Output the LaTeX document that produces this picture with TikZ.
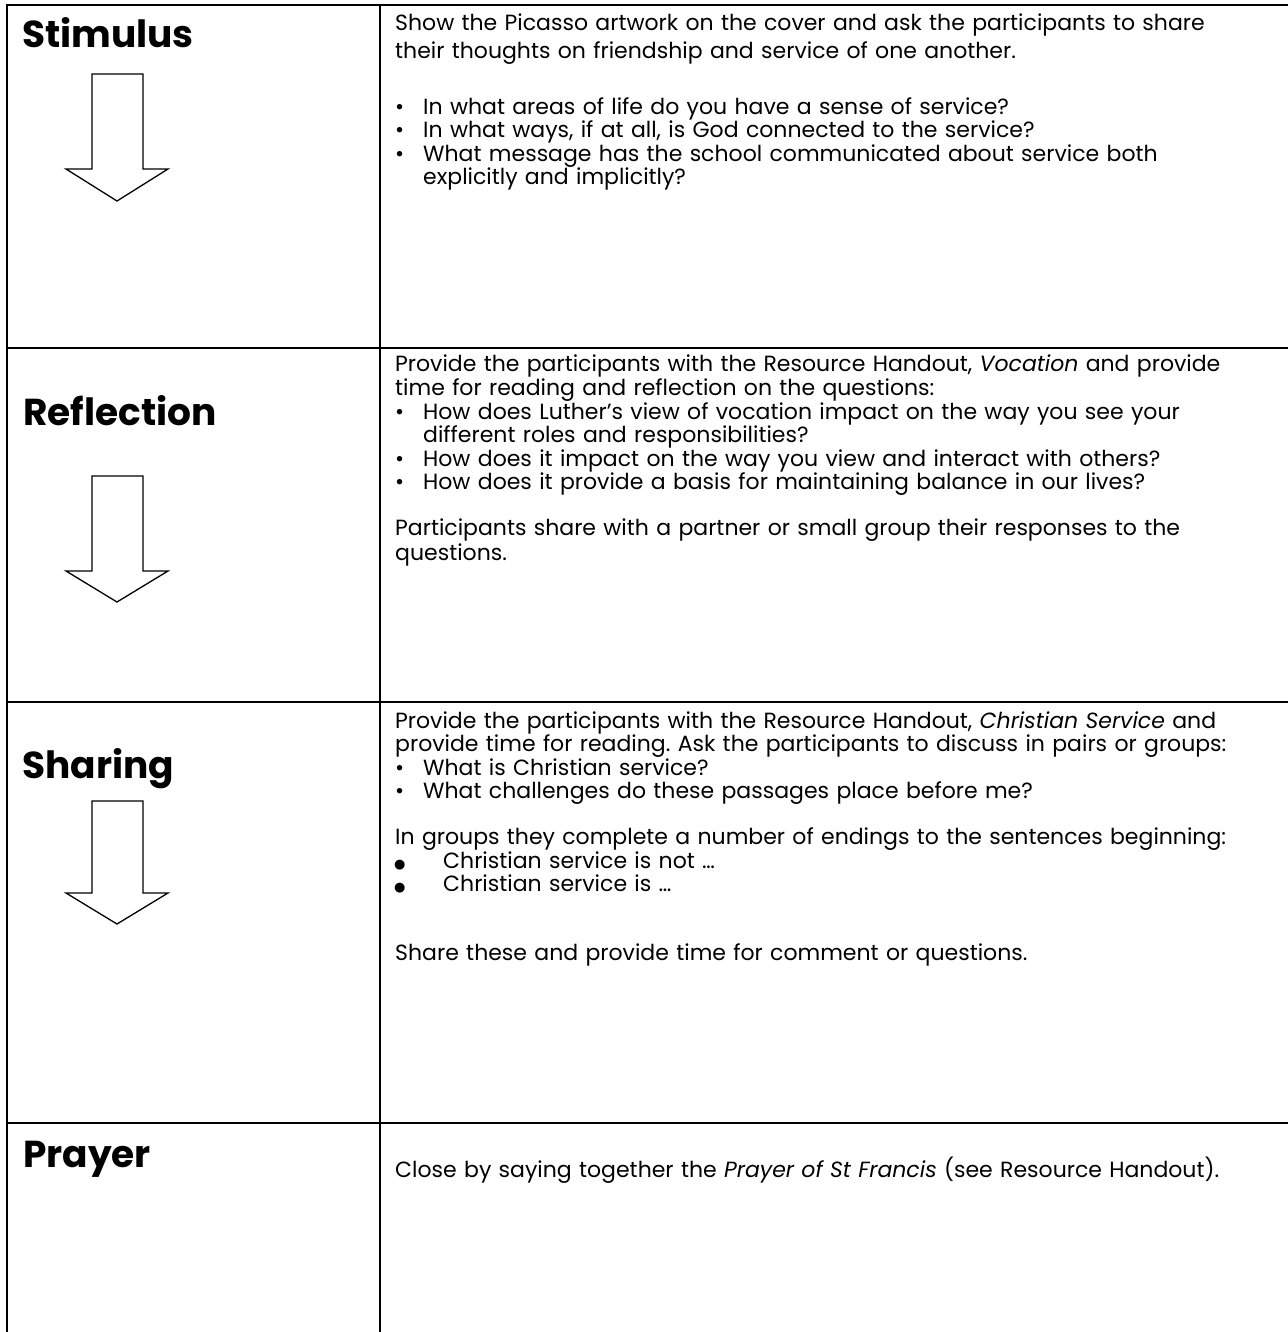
\documentclass[tikz,border=0pt]{standalone}
\usepackage{fontspec}
\setmainfont{Poppins}
\newfontfamily\djv{DejaVu Sans}
\newcommand\bulitem{\makebox[28pt][l]{•}}
\newcommand\bigbul{\makebox[48pt][l]{\hspace*{-1pt}{\djv\fontsize{13}{13}\selectfont ●}}}
\frenchspacing
\begin{document}
\begin{tikzpicture}[x=1pt,y=-1pt,
  rule/.style={line width=2.6pt, line cap=rect},
  hdr/.style={anchor=base west, inner sep=0pt, font=\fontsize{37.5}{42}\selectfont\bfseries},
  body/.style={anchor=base west, inner sep=0pt, text width=960pt, align=left, font=\fontsize{22}{23.5}\selectfont},
  flowarrow/.style={draw=black, line width=1.3pt, fill=white, line join=miter}]
\useasboundingbox (0,0) rectangle (1287,1332);
\fill[white] (0,0) rectangle (1287,1332);
% table rules
\draw[rule] (7,1332) -- (7,5) -- (1287,5);
\draw[rule] (380,5) -- (380,1332);
\draw[rule] (7,348) -- (1287,348);
\draw[rule] (7,702) -- (1287,702);
\draw[rule] (7,1123) -- (1287,1123);
% headings
\node[hdr] (stim) at (22,48) {Stimulus};
\node[hdr] (refl) at (23,425) {Reflection};
\node[hdr] (shar) at (22,778) {Sharing};
\node[hdr] (pray) at (23,1167) {Prayer};
% arrows
\foreach \t/\b/\p in {74/169/201, 476/571/602, 801/893/924}{
  \draw[flowarrow] (92,\t) -- (143,\t) -- (143,\b) -- (168,\b) -- (117,\p) -- (66,\b) -- (92,\b) -- cycle;
}
% texts
\node[body] (t1) at (395,31) {Show the Picasso artwork on the cover and ask the participants to share\\[4pt]
their thoughts on friendship and service of one another.\\[32.5pt]
\bulitem In what areas of life do you have a sense of service?\\
\bulitem In what ways, if at all, is God connected to the service?\\
\bulitem What message has the school communicated about service both\\
\hspace*{28pt}explicitly and implicitly?};
\node[body] (t2) at (395,371) {Provide the participants with the Resource Handout, \textit{Vocation} and provide\\[1pt]
time for reading and reflection on the questions:\\
\bulitem How does Luther’s view of vocation impact on the way you see your\\
\hspace*{28pt}different roles and responsibilities?\\
\bulitem How does it impact on the way you view and interact with others?\\
\bulitem How does it provide a basis for maintaining balance in our lives?\\[22.5pt]
Participants share with a partner or small group their responses to the\\[1pt]
questions.};
\node[body] (t3) at (395,728) {Provide the participants with the Resource Handout, \textit{Christian Service} and\\
provide time for reading. Ask the participants to discuss in pairs or groups:\\
\bulitem What is Christian service?\\
\bulitem What challenges do these passages place before me?\\[22.5pt]
In groups they complete a number of endings to the sentences beginning:\\
\bigbul Christian service is not …\\
\bigbul Christian service is …\\[45pt]
Share these and provide time for comment or questions.};
\node[body] (t4) at (395,1177) {Close by saying together the \textit{Prayer of St Francis} (see Resource Handout).};
\end{tikzpicture}
\end{document}
